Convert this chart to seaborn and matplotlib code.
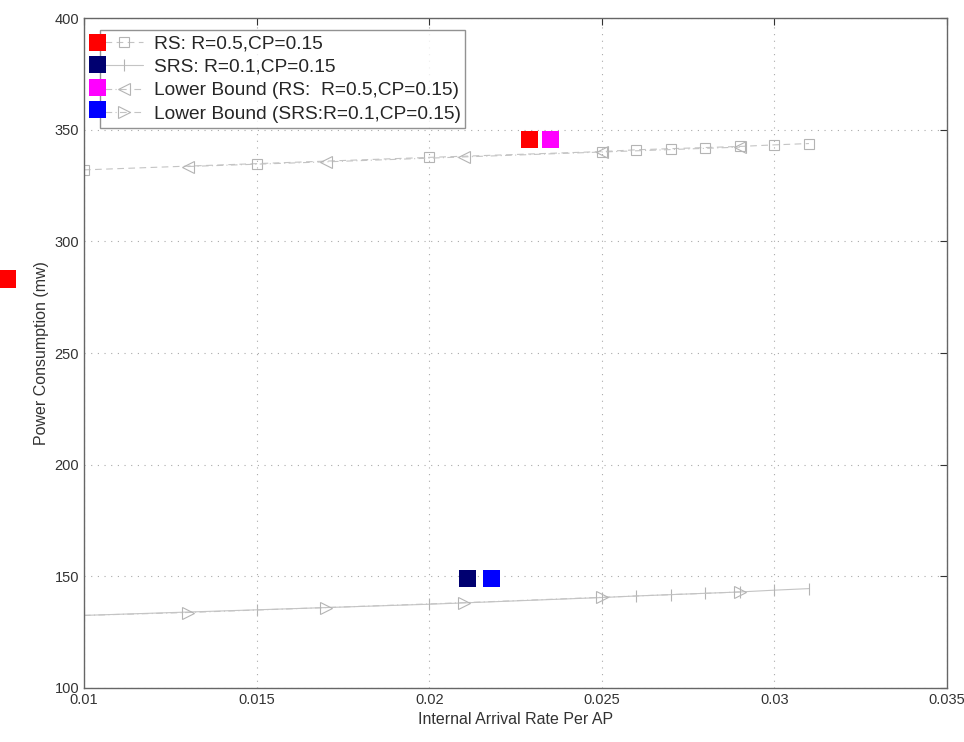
import numpy as np
import pandas as pd
import matplotlib
matplotlib.use('Agg')
import matplotlib.pyplot as plt
import seaborn as sns

# 데이터
rs_x = [0.01, 0.015, 0.02, 0.025, 0.026, 0.027, 0.028, 0.029, 0.03, 0.031]
rs_y = [332.0, 334.8, 337.6, 340.2, 341.0, 341.5, 342.0, 342.5, 343.2, 343.8]
srs_x = [0.01, 0.015, 0.02, 0.025, 0.026, 0.027, 0.028, 0.029, 0.03, 0.031]
srs_y = [132.5, 135.0, 137.5, 140.5, 141.2, 141.8, 142.4, 143.0, 143.8, 144.5]
lb_x = [0.01, 0.013, 0.017, 0.021, 0.025, 0.029]
lb_rs_y = [332.0, 333.5, 335.6, 337.8, 340.0, 342.2]
lb_srs_y = [132.5, 133.8, 136.0, 138.2, 140.6, 143.0]

# 색 사각형 (그림 안)
sq_x = [0.0229, 0.0235, 0.0211, 0.0218]
sq_y = [345.5, 345.5, 149.0, 149.0]
sq_colors = ['#ff0000', '#ff00ff', '#000070', '#0000ff']
# 축 밖의 빨간 사각형
out_x = [0.00777]
out_y = [283.0]

labels = ['RS: R=0.5,CP=0.15', 'SRS: R=0.1,CP=0.15',
          'Lower Bound (RS:  R=0.5,CP=0.15)', 'Lower Bound (SRS:R=0.1,CP=0.15)']
leg_colors = ['#ff0000', '#000070', '#ff00ff', '#0000ff']

sns.set_style('white')
plt.rcParams['font.family'] = ['Liberation Sans', 'DejaVu Sans']

fig = plt.figure(figsize=(9.64, 7.42), dpi=100)
ax = fig.add_axes([0.0871, 0.0728, 0.8953, 0.9029])

gray = '#c4c4c4'
mgray = '#b4b4b4'
sns.lineplot(x=rs_x, y=rs_y, ax=ax, color=gray, lw=0.8, ls=(0, (6, 4)),
             marker='s', ms=7.5, mfc='none', mec=mgray, mew=0.8, label=labels[0])
sns.lineplot(x=srs_x, y=srs_y, ax=ax, color=gray, lw=0.8, ls='-',
             marker='|', ms=9, mec=mgray, mew=0.8, label=labels[1])
sns.lineplot(x=lb_x[1:], y=lb_rs_y[1:], ax=ax, color=gray, lw=0.8, ls=(0, (6, 3, 1, 3)),
             marker='<', ms=8.5, mfc='none', mec=mgray, mew=0.8, label=labels[2])
sns.lineplot(x=lb_x, y=lb_srs_y, ax=ax, color=gray, lw=0.8, ls=(0, (6, 3, 1, 3)),
             marker='>', ms=8.5, mfc='none', mec=mgray, mew=0.8, label=labels[3],
             markevery=list(range(1, len(lb_x))))

sns.scatterplot(x=sq_x, y=sq_y, ax=ax, marker='s', s=150, c=sq_colors,
                linewidth=0, zorder=5, legend=False)
ax.scatter(out_x, out_y, marker='s', s=150, c='#ff0000', linewidths=0,
           clip_on=False, zorder=6)

ax.set_xlim(0.01, 0.035)
ax.set_ylim(100, 400)
ax.set_xticks([0.01, 0.015, 0.02, 0.025, 0.03, 0.035])
ax.set_xticklabels(['0.01', '0.015', '0.02', '0.025', '0.03', '0.035'])
ax.set_yticks(range(100, 401, 50))
ax.grid(True, ls=(0, (1, 5)), color='#aaaaaa', lw=0.8)
ax.tick_params(direction='in', length=5, labelsize=10.5, colors='#333333',
               top=True, right=True)
for s in ax.spines.values():
    s.set_color('#666666')
    s.set_linewidth(1.0)

ax.set_xlabel('Internal Arrival Rate Per AP', fontsize=11.5, color='#333333')
ax.set_ylabel('Power Consumption (mw)', fontsize=11.5, color='#333333')

leg = ax.legend(loc='upper left', bbox_to_anchor=(0.0185, 0.982), fontsize=13.8,
                frameon=True, fancybox=False, edgecolor='#777777',
                handlelength=2.0, handletextpad=0.55, borderpad=0.25,
                labelspacing=0.32, borderaxespad=0)
leg.get_frame().set_linewidth(1.0)

# 범례 옆 색 사각형
leg_sq_y = [0.964, 0.931, 0.897, 0.863]
ax.scatter([0.0155] * 4, leg_sq_y, transform=ax.transAxes, marker='s', s=150,
           c=leg_colors, linewidths=0, clip_on=False, zorder=10)

fig.savefig('out.png', dpi=100, facecolor='white')
